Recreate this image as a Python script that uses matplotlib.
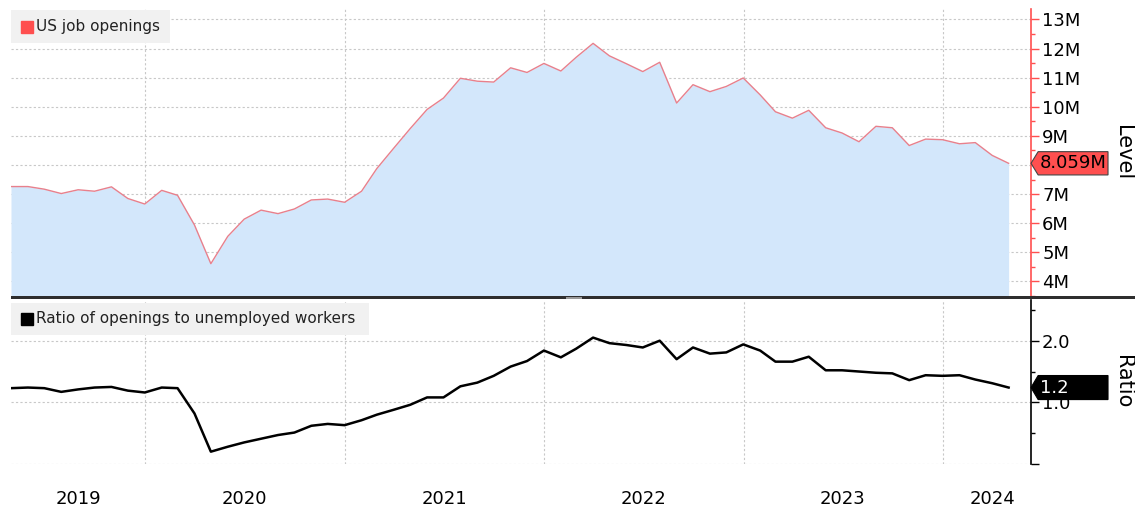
import pandas as pd
import matplotlib
matplotlib.use("Agg")
import matplotlib.pyplot as plt
from matplotlib.patches import Rectangle, Polygon
from matplotlib.transforms import blended_transform_factory

# monthly data, Apr 2019 - Apr 2024 (millions / ratio)
months = pd.date_range("2019-04-30", "2024-04-30", freq="ME")
openings = [7.26, 7.26, 7.17, 7.02, 7.15, 7.10, 7.25, 6.85, 6.66,
            7.13, 6.96, 5.94, 4.61, 5.55, 6.14, 6.45, 6.33, 6.49, 6.80, 6.83, 6.72,
            7.10, 7.88, 8.58, 9.25, 9.91, 10.30, 10.98, 10.88, 10.85, 11.34, 11.18, 11.49,
            11.23, 11.70, 12.18, 11.75, 11.48, 11.21, 11.53, 10.13, 10.76, 10.52, 10.70, 10.99,
            10.41, 9.83, 9.61, 9.88, 9.28, 9.10, 8.80, 9.33, 9.28, 8.67, 8.89, 8.87,
            8.73, 8.77, 8.33, 8.059]
ratio = [1.23, 1.24, 1.23, 1.17, 1.21, 1.24, 1.25, 1.19, 1.16,
         1.24, 1.23, 0.82, 0.20, 0.28, 0.35, 0.41, 0.47, 0.51, 0.62, 0.65, 0.63,
         0.71, 0.80, 0.88, 0.96, 1.08, 1.08, 1.26, 1.32, 1.43, 1.58, 1.67, 1.84,
         1.73, 1.87, 2.05, 1.96, 1.93, 1.89, 2.00, 1.70, 1.89, 1.79, 1.81, 1.94,
         1.84, 1.66, 1.66, 1.74, 1.52, 1.52, 1.50, 1.48, 1.47, 1.36, 1.44, 1.43,
         1.44, 1.37, 1.31, 1.24]
year_labels = ["2019", "2020", "2021", "2022", "2023", "2024"]
year_label_dates = pd.to_datetime(["2019-09-01", "2020-07-01", "2021-07-01",
                                   "2022-07-01", "2023-07-01", "2024-04-01"])
year_starts = pd.to_datetime(["2020-01-01", "2021-01-01", "2022-01-01",
                              "2023-01-01", "2024-01-01"])
level_ticks = list(range(4, 14))
ratio_ticks = [0, 1, 2]

W, H = 1135, 511
fig = plt.figure(figsize=(W / 100, H / 100), dpi=100)
plt.rcParams["font.family"] = "DejaVu Sans"

def box(x0, y0, x1, y1):
    return [x0 / W, 1 - y1 / H, (x1 - x0) / W, (y1 - y0) / H]

ax1 = fig.add_axes(box(11, 9, 1031, 296))
ax2 = fig.add_axes(box(11, 300, 1031, 464))

red = "#ff4f4f"
grid_kw = dict(color="#c8c8c8", linestyle=(0, (2, 2)), linewidth=0.8)
xmin = months[0]
xmax = pd.Timestamp("2024-06-10")

# ---- top panel: job openings
ax1.fill_between(months, openings, 0, color="#d3e7fb", linewidth=0)
ax1.plot(months, openings, color="#e8808c", linewidth=1.0)
ax1.set_ylim(3.86, 13.36)
ax1.set_xlim(xmin, xmax)
ax1.yaxis.tick_right()
ax1.set_yticks(level_ticks)
ax1.set_yticks([v + 0.5 for v in range(3, 13)], minor=True)
# the 8M label sits under the last-value tag
ax1.set_yticklabels(["" if v == 8 else f"{v}M" for v in level_ticks], fontsize=13)
ax1.tick_params(axis="y", which="major", length=6, width=1, color=red, pad=2)
ax1.tick_params(axis="y", which="minor", length=3, width=1, color=red)
ax1.yaxis.set_label_position("right")
ax1.set_ylabel("Level", rotation=270, fontsize=15, va="center", ha="center")
ax1.yaxis.set_label_coords(1.090, 0.5)

# ---- bottom panel: ratio
ax2.plot(months, ratio, color="black", linewidth=1.8)
ax2.set_ylim(0, 2.66)
ax2.set_xlim(xmin, xmax)
ax2.yaxis.tick_right()
ax2.set_yticks(ratio_ticks)
ax2.set_yticklabels(["" if v == 0 else f"{v:.1f}" for v in ratio_ticks], fontsize=13)
ax2.set_yticks([0.5, 1.5, 2.5], minor=True)
ax2.tick_params(axis="y", which="major", length=6, width=1, color="black", pad=2)
ax2.tick_params(axis="y", which="minor", length=3, width=1, color="black")
ax2.yaxis.set_label_position("right")
ax2.set_ylabel("Ratio", rotation=270, fontsize=15, va="center", ha="center")
ax2.yaxis.set_label_coords(1.090, 0.5)

for ax, spc in ((ax1, red), (ax2, "black")):
    for s in ("left", "top", "bottom"):
        ax.spines[s].set_visible(False)
    ax.spines["right"].set_color(spc)
    ax.spines["right"].set_linewidth(1.2)
    ax.set_xticks(year_starts)
    ax.grid(True, which="major", **grid_kw)
    ax.tick_params(axis="x", which="both", length=0)
    ax.set_axisbelow(True)

ax1.set_xticklabels([])
ax2.set_xticks(year_label_dates, minor=True)
ax2.set_xticklabels([], minor=False)
ax2.set_xticklabels(year_labels, minor=True, fontsize=13)
ax2.tick_params(axis="x", which="minor", pad=19)

# legends
def legend_box(ax, y0, y1, x1, color, label):
    ax.add_patch(Rectangle((0, y0), x1, y1 - y0, transform=ax.transAxes,
                           facecolor="#f1f1f1", edgecolor="none", zorder=3))
    ym = (y0 + y1) / 2
    ax.plot([0.0157], [ym], marker="s", markersize=8, color=color,
            transform=ax.transAxes, zorder=4, clip_on=False)
    ax.text(0.0245, ym, label, transform=ax.transAxes, fontsize=11,
            va="center", ha="left", color="#222222", zorder=4)

legend_box(ax1, 0.8815, 0.9965, 0.156, red, "US job openings")
legend_box(ax2, 0.787, 0.982, 0.3505, "black", "Ratio of openings to unemployed workers")

# last-value tags on the right axes
def tag(ax, yval, half, text, face, tcolor, edge):
    tr = blended_transform_factory(ax.transAxes, ax.transData)
    pts = [(1.0, yval), (1.007, yval + half), (1.0755, yval + half),
           (1.0755, yval - half), (1.007, yval - half)]
    ax.add_patch(Polygon(pts, closed=True, transform=tr, facecolor=face,
                         edgecolor=edge, linewidth=0.8, clip_on=False, zorder=5))
    ax.text(1.0085, yval, text, transform=tr, fontsize=13, color=tcolor,
            va="center", ha="left", clip_on=False, zorder=6)

tag(ax1, openings[-1], 0.40, f"{openings[-1]:.3f}M", red, "black", "#444444")
tag(ax2, ratio[-1], 0.195, f"{ratio[-1]:.1f}", "black", "white", "black")

# separator between panels
fig.add_artist(Rectangle((11 / W, 1 - 299 / H), 1 - 11 / W, 3.5 / H,
                         transform=fig.transFigure, facecolor="#2e2e2e",
                         edgecolor="none"))
fig.add_artist(Rectangle((566 / W, 1 - 298.5 / H), 16 / W, 1.2 / H,
                         transform=fig.transFigure, facecolor="#9a9a9a",
                         edgecolor="none"))

fig.savefig("out.png", dpi=100)
